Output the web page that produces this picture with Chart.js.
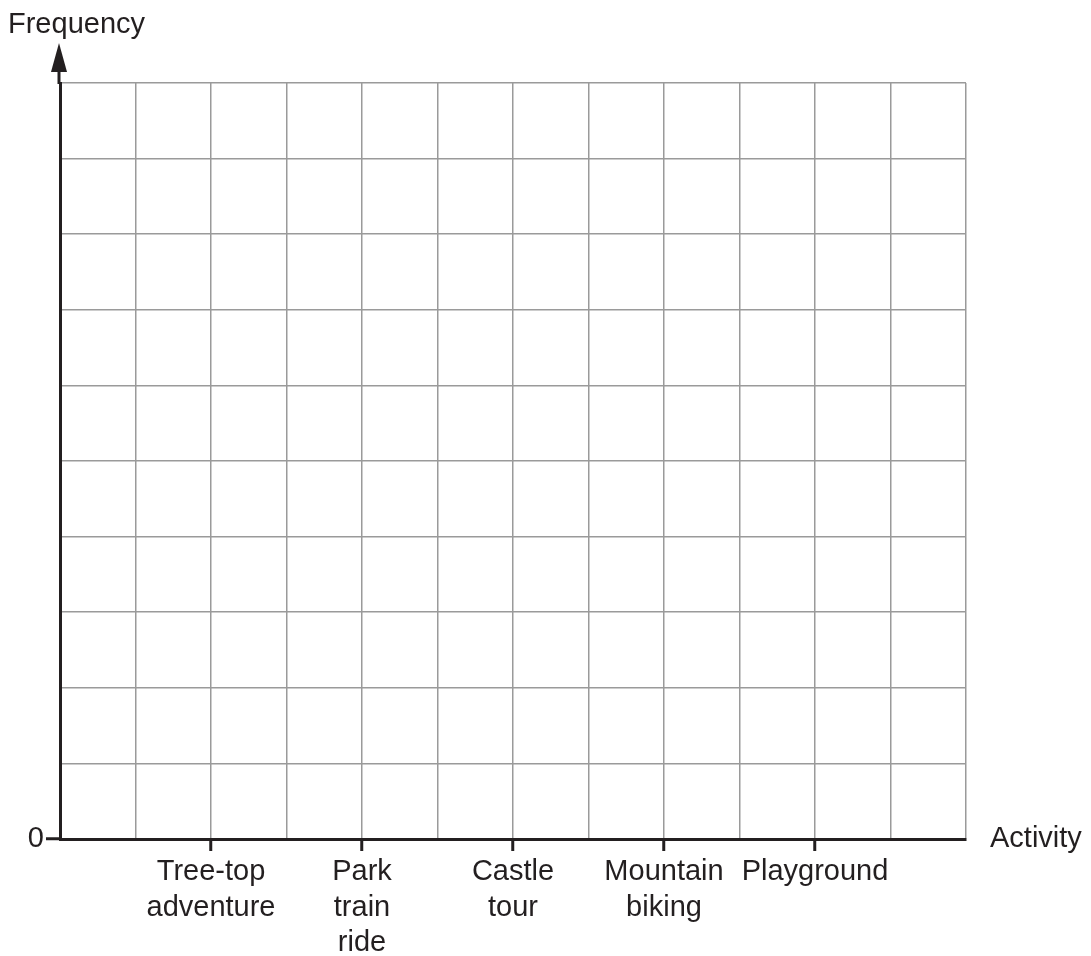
<!DOCTYPE html>
<html>
<head>
<meta charset="utf-8">
<script src="https://cdn.jsdelivr.net/npm/chart.js@4"></script>
<style>
  html, body { margin: 0; padding: 0; background: #ffffff; }
  #wrap { width: 1091px; height: 956px; position: relative; }
</style>
</head>
<body>
<div id="wrap"><canvas id="c" width="1091" height="956"></canvas></div>
<script>
// ---- data ----
const categories = ['Tree-top adventure', 'Park train ride', 'Castle tour', 'Mountain biking', 'Playground'];
const frequencies = [null, null, null, null, null]; // blank chart: no bars drawn yet
const yTickLabels = ['0'];
const yAxisTitle = 'Frequency';
const xAxisTitle = 'Activity';
const yMax = 10;

// 13 grid slots; categories sit on every second gridline
const slotLabels = ['', ''];
const slotValues = [null, null];
categories.forEach((c, i) => {
  slotLabels.push(c, '');
  slotValues.push(frequencies[i], null);
});
slotLabels.push('');
slotValues.push(null);

const INK = '#231f20';
const GRID = '#9a9a9a';
const FONT = '"Liberation Sans", Arial, Helvetica, sans-serif';
const FSIZE = 29;

const axisDecor = {
  id: 'axisDecor',
  afterDraw(chart) {
    const ctx = chart.ctx;
    const a = chart.chartArea;
    const x = a.left - 1;
    ctx.save();
    // y-axis extension + arrowhead
    ctx.strokeStyle = INK;
    ctx.lineWidth = 3;
    ctx.beginPath();
    ctx.moveTo(x, a.top + 1);
    ctx.lineTo(x, a.top - 12);
    ctx.stroke();
    ctx.fillStyle = INK;
    ctx.beginPath();
    ctx.moveTo(x, a.top - 40);
    ctx.lineTo(x - 8, a.top - 11);
    ctx.lineTo(x + 8, a.top - 11);
    ctx.closePath();
    ctx.fill();
    // axis titles
    ctx.font = FSIZE + 'px ' + FONT;
    ctx.textBaseline = 'alphabetic';
    ctx.textAlign = 'left';
    ctx.fillText(yAxisTitle, a.left - 52, 33);
    ctx.fillText(xAxisTitle, a.right + 24, a.bottom + 8);
    ctx.restore();
  }
};

new Chart(document.getElementById('c'), {
  type: 'bar',
  data: {
    labels: slotLabels,
    datasets: [{ data: slotValues, backgroundColor: '#cccccc', borderColor: INK, borderWidth: 2 }]
  },
  options: {
    responsive: false,
    animation: false,
    events: [],
    layout: { padding: { top: 83, right: 125, bottom: 0, left: 0 } },
    plugins: { legend: { display: false }, tooltip: { enabled: false } },
    scales: {
      x: {
        type: 'category',
        offset: false,
        afterFit(s) { s.height = 117; },
        border: { display: true, color: INK, width: 3 },
        grid: {
          offset: false,
          color: ctx => ctx.index === 0 ? 'rgba(0,0,0,0)' : GRID,
          lineWidth: 1.5,
          drawTicks: true,
          tickLength: 12,
          tickWidth: 3,
          tickColor: ctx => (slotLabels[ctx.index] ? INK : 'rgba(0,0,0,0)')
        },
        ticks: {
          autoSkip: false,
          maxRotation: 0,
          minRotation: 0,
          padding: 3.5,
          color: INK,
          font: { family: FONT, size: FSIZE, lineHeight: 1.22 },
          callback(v, i) {
            const l = slotLabels[i];
            return l ? l.split(' ') : '';
          }
        }
      },
      y: {
        type: 'linear',
        min: 0,
        max: yMax,
        afterFit(s) { s.width = 60; },
        border: { display: true, color: INK, width: 3 },
        grid: {
          color: ctx => ctx.tick && ctx.tick.value === 0 ? 'rgba(0,0,0,0)' : GRID,
          lineWidth: 1.5,
          drawTicks: true,
          tickLength: 14,
          tickWidth: 3,
          tickColor: ctx => ctx.tick && ctx.tick.value === 0 ? INK : 'rgba(0,0,0,0)'
        },
        ticks: {
          stepSize: 1,
          padding: 2,
          color: INK,
          font: { family: FONT, size: FSIZE },
          callback(v, i) { return yTickLabels[i] !== undefined ? yTickLabels[i] : ''; }
        }
      }
    }
  },
  plugins: [axisDecor]
});
</script>
</body>
</html>
